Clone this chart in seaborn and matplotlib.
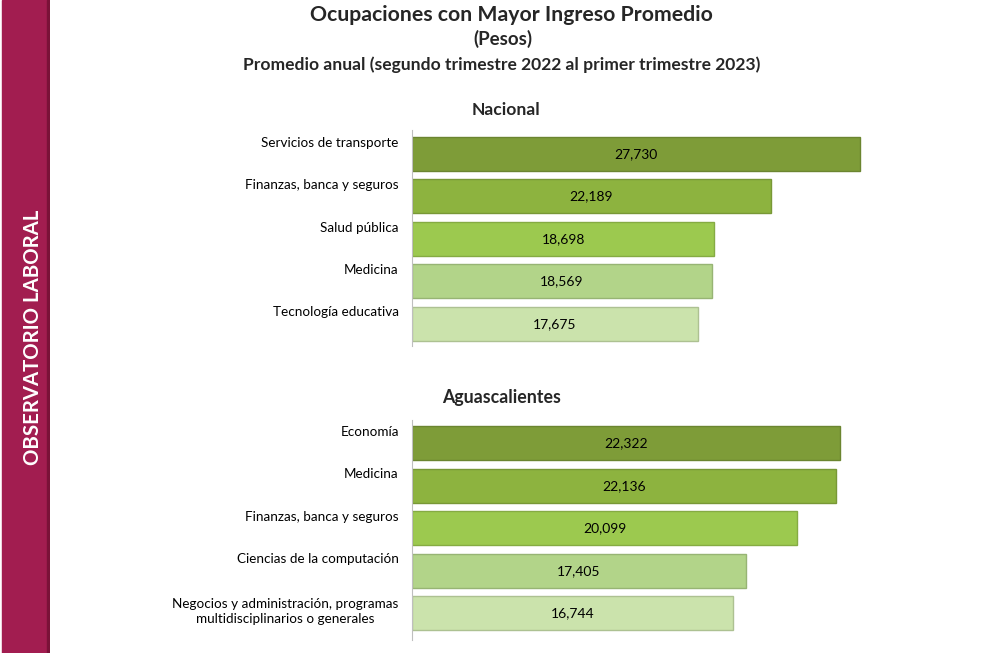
import matplotlib
matplotlib.use("Agg")
import matplotlib.pyplot as plt
import matplotlib.colors as mcolors
import seaborn as sns
import pandas as pd

# datos
nacional_cat = ["Servicios de transporte", "Finanzas, banca y seguros", "Salud pública",
                "Medicina", "Tecnología educativa"]
nacional_val = [27730, 22189, 18698, 18569, 17675]

ags_cat = ["Economía", "Medicina", "Finanzas, banca y seguros", "Ciencias de la computación",
           "Negocios y administración, programas\nmultidisciplinarios o generales"]
ags_val = [22322, 22136, 20099, 17405, 16744]

colores = ["#7E9C38", "#8DB33F", "#9CC94F", "#B2D489", "#CBE3AC"]

sns.set_theme(style="white")
plt.rcParams["font.family"] = ["Lato", "DejaVu Sans"]

W, H = 985, 653
fig = plt.figure(figsize=(W / 100, H / 100), dpi=100)
fig.patch.set_facecolor("white")


def px_axes(x0, y0, x1, y1):
    return fig.add_axes([x0 / W, 1 - y1 / H, (x1 - x0) / W, (y1 - y0) / H])


def panel(ax, cats, vals, xmax, ylim):
    df = pd.DataFrame({"cat": cats, "val": vals})
    sns.barplot(data=df, x="val", y="cat", hue="cat", palette=colores,
                legend=False, ax=ax, width=0.8, saturation=1)
    for p in ax.patches:
        fc = mcolors.to_rgb(p.get_facecolor())
        p.set_edgecolor(tuple(c * 0.85 for c in fc))
        p.set_linewidth(1.0)
    for cont in ax.containers:
        ax.bar_label(cont, labels=[f"{v:,.0f}" for v in cont.datavalues],
                     label_type="center", fontsize=10, color="black")
    for i, c in enumerate(cats):
        multi = "\n" in c
        ax.annotate(c, xy=(0, i - (0.36 if multi else 0.41)), xytext=(-9.5, 0),
                    textcoords="offset points", ha="right", va="top", fontsize=9.7,
                    color="black", multialignment="center" if multi else "right",
                    linespacing=1.35, annotation_clip=False)
    ax.set_xlim(0, xmax)
    ax.set_ylim(*ylim)
    ax.set_yticks([])
    ax.set_xticks([])
    ax.set_xlabel("")
    ax.set_ylabel("")
    for s in ["top", "right", "bottom"]:
        ax.spines[s].set_visible(False)
    ax.spines["left"].set_color("#BFBFBF")
    ax.spines["left"].set_linewidth(0.8)
    ax.patch.set_alpha(0)


ax1 = px_axes(412, 130, 880, 346)
panel(ax1, nacional_cat, nacional_val, 468 / 0.01616, (4.52, -0.565))

ax2 = px_axes(412, 420, 880, 640)
panel(ax2, ags_cat, ags_val, 468 / 0.01917, (4.63, -0.55))

# franja lateral
band = fig.add_axes([0, 0, 50 / W, 1])
band.set_xlim(0, 50)
band.set_ylim(0, 1)
band.axvspan(0, 2, color="white")
band.axvspan(2, 47, color="#A21D50")
band.axvspan(47, 50, color="#7A1238")
band.text(33.5, 1 - 337 / H, "OBSERVATORIO LABORAL", rotation=90, color="white",
          fontsize=14.7, fontweight="bold", ha="center", va="center")
band.axis("off")

# títulos
fig.text(511 / W, 1 - 15 / H, "Ocupaciones con Mayor Ingreso Promedio", ha="center",
         va="center", fontsize=15.3, fontweight="bold")
fig.text(503 / W, 1 - 39 / H, "(Pesos)", ha="center", va="center",
         fontsize=13.5, fontweight="bold")
fig.text(502 / W, 1 - 65 / H, "Promedio anual (segundo trimestre 2022 al primer trimestre 2023)",
         ha="center", va="center", fontsize=12.6, fontweight="bold")
fig.text(506 / W, 1 - 110 / H, "Nacional", ha="center", va="center",
         fontsize=12.6, fontweight="bold")
fig.text(502 / W, 1 - 398 / H, "Aguascalientes", ha="center", va="center",
         fontsize=12.8, fontweight="bold")

fig.savefig("out.png", dpi=100)
